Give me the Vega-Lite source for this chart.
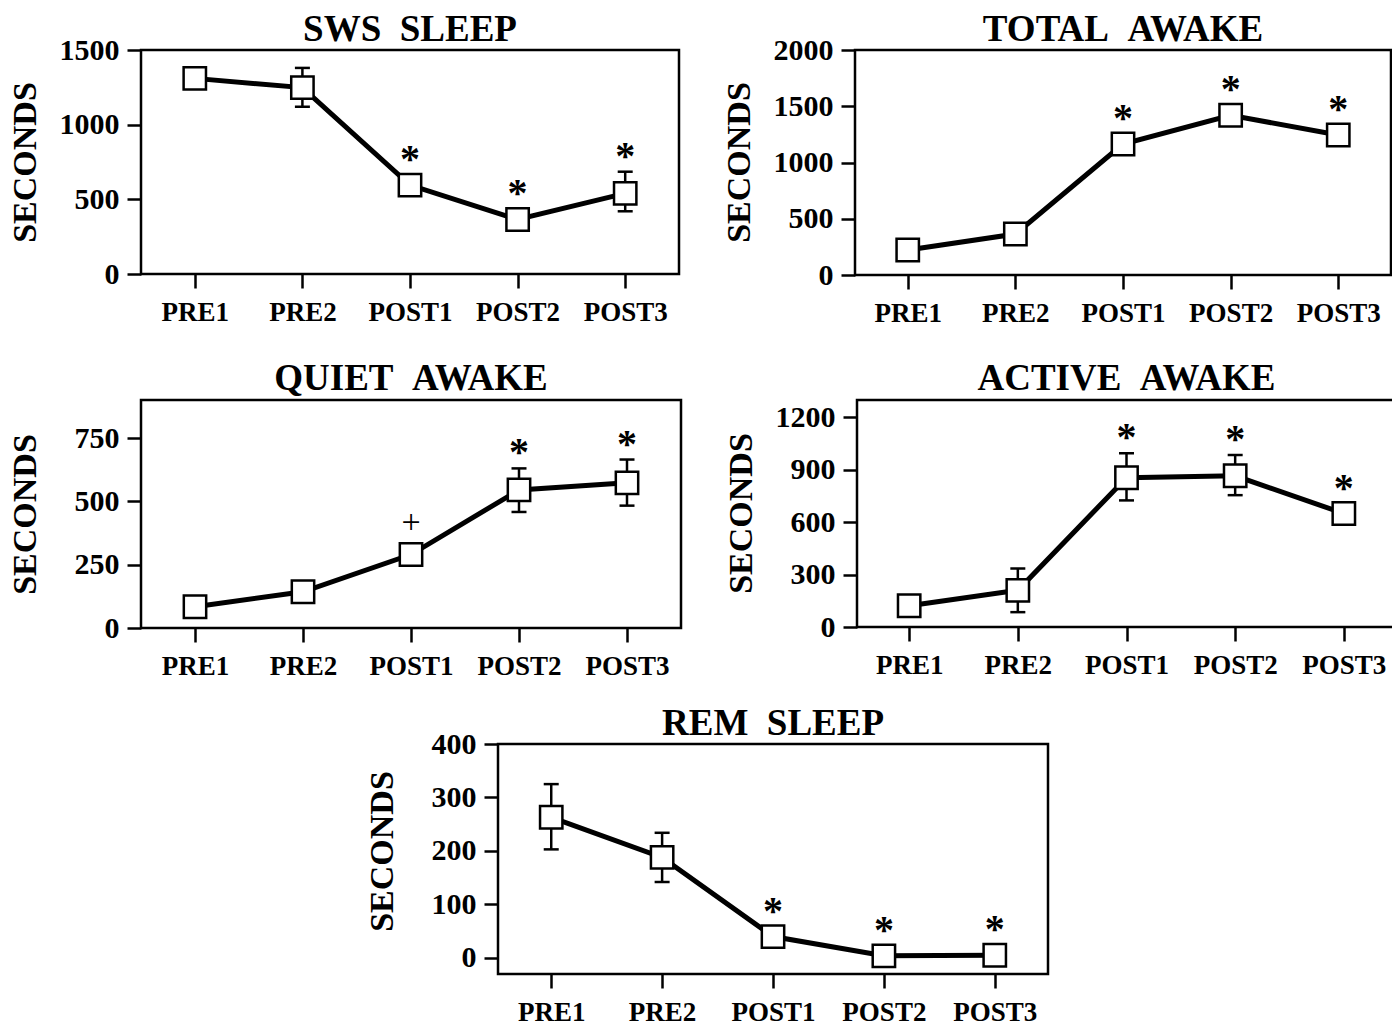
{
  "$schema": "https://vega.github.io/schema/vega-lite/v6.json",
  "padding": {"left": 6, "top": 9, "right": 0, "bottom": 0},
  "background": "white",
  "datasets": {
    "sws": [
      {"t": "PRE1", "v": 1310},
      {"t": "PRE2", "v": 1248, "lo": 1120, "hi": 1380},
      {"t": "POST1", "v": 595, "sig": "*"},
      {"t": "POST2", "v": 365, "sig": "*"},
      {"t": "POST3", "v": 540, "lo": 420, "hi": 685, "sig": "*"}
    ],
    "total": [
      {"t": "PRE1", "v": 222},
      {"t": "PRE2", "v": 364},
      {"t": "POST1", "v": 1164, "sig": "*"},
      {"t": "POST2", "v": 1420, "sig": "*"},
      {"t": "POST3", "v": 1244, "sig": "*"}
    ],
    "quiet": [
      {"t": "PRE1", "v": 84},
      {"t": "PRE2", "v": 143},
      {"t": "POST1", "v": 290, "sig": "+"},
      {"t": "POST2", "v": 545, "lo": 458, "hi": 630, "sig": "*"},
      {"t": "POST3", "v": 573, "lo": 483, "hi": 665, "sig": "*"}
    ],
    "active": [
      {"t": "PRE1", "v": 122},
      {"t": "PRE2", "v": 210, "lo": 85, "hi": 335},
      {"t": "POST1", "v": 855, "lo": 725, "hi": 995, "sig": "*"},
      {"t": "POST2", "v": 866, "lo": 755, "hi": 985, "sig": "*"},
      {"t": "POST3", "v": 650, "sig": "*"}
    ],
    "rem": [
      {"t": "PRE1", "v": 263, "lo": 203, "hi": 325},
      {"t": "PRE2", "v": 188, "lo": 142, "hi": 234},
      {"t": "POST1", "v": 40, "sig": "*"},
      {"t": "POST2", "v": 4, "sig": "*"},
      {"t": "POST3", "v": 5, "sig": "*"}
    ]
  },
  "vconcat": [
    {
      "spacing": 30,
      "vconcat": [
        {
          "spacing": 39,
          "hconcat": [
            {
              "width": 538, "height": 224,
              "title": {"text": "SWS\u00a0\u00a0SLEEP"},
              "data": {"name": "sws"},
              "encoding": {"x": {"field": "t", "type": "ordinal", "title": null, "sort": ["PRE1", "PRE2", "POST1", "POST2", "POST3"], "scale": {"type": "point", "padding": 0.5}}},
              "layer": [
                {"mark": {"type": "rule", "strokeWidth": 2.5, "color": "black"}, "encoding": {"y": {"field": "lo", "type": "quantitative", "title": "SECONDS", "scale": {"domain": [0, 1500], "nice": false, "zero": false}, "axis": {"values": [0, 500, 1000, 1500], "format": "d", "titleY": 112}}, "y2": {"field": "hi"}}},
                {"mark": {"type": "line", "strokeWidth": 5, "color": "black"}, "encoding": {"y": {"field": "v", "type": "quantitative", "title": "SECONDS"}}},
                {"mark": {"type": "point", "shape": "square", "filled": true, "fill": "white", "stroke": "black", "strokeWidth": 2.5, "size": 500, "opacity": 1}, "encoding": {"y": {"field": "v", "type": "quantitative", "title": "SECONDS"}}},
                {"mark": {"type": "tick", "thickness": 2.5, "size": 15, "color": "black", "opacity": 1}, "encoding": {"y": {"field": "lo", "type": "quantitative", "title": "SECONDS"}}},
                {"mark": {"type": "tick", "thickness": 2.5, "size": 15, "color": "black", "opacity": 1}, "encoding": {"y": {"field": "hi", "type": "quantitative", "title": "SECONDS"}}},
                {"transform": [{"filter": "datum.sig != null && datum.hi != null"}], "mark": {"type": "text", "baseline": "middle", "dy": -15, "fontSize": 40, "fontWeight": "bold", "color": "black"}, "encoding": {"y": {"field": "hi", "type": "quantitative", "title": "SECONDS"}, "text": {"field": "sig"}}},
                {"transform": [{"filter": "datum.sig != null && datum.hi == null"}], "mark": {"type": "text", "baseline": "middle", "dy": -25, "fontSize": 40, "fontWeight": "bold", "color": "black"}, "encoding": {"y": {"field": "v", "type": "quantitative", "title": "SECONDS"}, "text": {"field": "sig"}}}
              ]
            },
            {
              "width": 536, "height": 225,
              "title": {"text": "TOTAL\u00a0\u00a0AWAKE"},
              "data": {"name": "total"},
              "encoding": {"x": {"field": "t", "type": "ordinal", "title": null, "sort": ["PRE1", "PRE2", "POST1", "POST2", "POST3"], "scale": {"type": "point", "padding": 0.49}}},
              "layer": [
                {"mark": {"type": "line", "strokeWidth": 5, "color": "black"}, "encoding": {"y": {"field": "v", "type": "quantitative", "title": "SECONDS", "scale": {"domain": [0, 2000], "nice": false, "zero": false}, "axis": {"values": [0, 500, 1000, 1500, 2000], "format": "d", "titleY": 112}}}},
                {"mark": {"type": "point", "shape": "square", "filled": true, "fill": "white", "stroke": "black", "strokeWidth": 2.5, "size": 500, "opacity": 1}, "encoding": {"y": {"field": "v", "type": "quantitative", "title": "SECONDS"}}},
                {"transform": [{"filter": "datum.sig != null"}], "mark": {"type": "text", "baseline": "middle", "dy": -25, "fontSize": 40, "fontWeight": "bold", "color": "black"}, "encoding": {"y": {"field": "v", "type": "quantitative", "title": "SECONDS"}, "text": {"field": "sig"}}}
              ]
            }
          ]
        },
        {
          "spacing": 39,
          "hconcat": [
            {
              "width": 540, "height": 228,
              "title": {"text": "QUIET\u00a0\u00a0AWAKE", "offset": 2},
              "data": {"name": "quiet"},
              "encoding": {"x": {"field": "t", "type": "ordinal", "title": null, "sort": ["PRE1", "PRE2", "POST1", "POST2", "POST3"], "scale": {"type": "point", "padding": 0.5}}},
              "layer": [
                {"mark": {"type": "rule", "strokeWidth": 2.5, "color": "black"}, "encoding": {"y": {"field": "lo", "type": "quantitative", "title": "SECONDS", "scale": {"domain": [0, 900], "nice": false, "zero": false}, "axis": {"values": [0, 250, 500, 750], "format": "d", "titleY": 114}}, "y2": {"field": "hi"}}},
                {"mark": {"type": "line", "strokeWidth": 5, "color": "black"}, "encoding": {"y": {"field": "v", "type": "quantitative", "title": "SECONDS"}}},
                {"mark": {"type": "point", "shape": "square", "filled": true, "fill": "white", "stroke": "black", "strokeWidth": 2.5, "size": 500, "opacity": 1}, "encoding": {"y": {"field": "v", "type": "quantitative", "title": "SECONDS"}}},
                {"mark": {"type": "tick", "thickness": 2.5, "size": 15, "color": "black", "opacity": 1}, "encoding": {"y": {"field": "lo", "type": "quantitative", "title": "SECONDS"}}},
                {"mark": {"type": "tick", "thickness": 2.5, "size": 15, "color": "black", "opacity": 1}, "encoding": {"y": {"field": "hi", "type": "quantitative", "title": "SECONDS"}}},
                {"transform": [{"filter": "datum.sig != null && datum.hi != null"}], "mark": {"type": "text", "baseline": "middle", "dy": -15, "fontSize": 40, "fontWeight": "bold", "color": "black"}, "encoding": {"y": {"field": "hi", "type": "quantitative", "title": "SECONDS"}, "text": {"field": "sig"}}},
                {"transform": [{"filter": "datum.sig != null && datum.hi == null"}], "mark": {"type": "text", "baseline": "middle", "dy": -32, "fontSize": 34, "fontWeight": "normal", "color": "black"}, "encoding": {"y": {"field": "v", "type": "quantitative", "title": "SECONDS"}, "text": {"field": "sig"}}}
              ]
            },
            {
              "width": 539, "height": 227,
              "title": {"text": "ACTIVE\u00a0\u00a0AWAKE", "offset": 2},
              "data": {"name": "active"},
              "encoding": {"x": {"field": "t", "type": "ordinal", "title": null, "sort": ["PRE1", "PRE2", "POST1", "POST2", "POST3"], "scale": {"type": "point", "padding": 0.48}}},
              "layer": [
                {"mark": {"type": "rule", "strokeWidth": 2.5, "color": "black"}, "encoding": {"y": {"field": "lo", "type": "quantitative", "title": "SECONDS", "scale": {"domain": [0, 1300], "nice": false, "zero": false}, "axis": {"values": [0, 300, 600, 900, 1200], "format": "d", "titleY": 113}}, "y2": {"field": "hi"}}},
                {"mark": {"type": "line", "strokeWidth": 5, "color": "black"}, "encoding": {"y": {"field": "v", "type": "quantitative", "title": "SECONDS"}}},
                {"mark": {"type": "point", "shape": "square", "filled": true, "fill": "white", "stroke": "black", "strokeWidth": 2.5, "size": 500, "opacity": 1}, "encoding": {"y": {"field": "v", "type": "quantitative", "title": "SECONDS"}}},
                {"mark": {"type": "tick", "thickness": 2.5, "size": 15, "color": "black", "opacity": 1}, "encoding": {"y": {"field": "lo", "type": "quantitative", "title": "SECONDS"}}},
                {"mark": {"type": "tick", "thickness": 2.5, "size": 15, "color": "black", "opacity": 1}, "encoding": {"y": {"field": "hi", "type": "quantitative", "title": "SECONDS"}}},
                {"transform": [{"filter": "datum.sig != null && datum.hi != null"}], "mark": {"type": "text", "baseline": "middle", "dy": -15, "fontSize": 40, "fontWeight": "bold", "color": "black"}, "encoding": {"y": {"field": "hi", "type": "quantitative", "title": "SECONDS"}, "text": {"field": "sig"}}},
                {"transform": [{"filter": "datum.sig != null && datum.hi == null"}], "mark": {"type": "text", "baseline": "middle", "dy": -25, "fontSize": 40, "fontWeight": "bold", "color": "black"}, "encoding": {"y": {"field": "v", "type": "quantitative", "title": "SECONDS"}, "text": {"field": "sig"}}}
              ]
            }
          ]
        }
      ]
    },
    {
      "spacing": 39,
      "hconcat": [
        {
          "width": 183, "height": 10,
          "data": {"values": []},
          "mark": {"type": "point", "opacity": 0},
          "view": {"stroke": null}
        },
        {
          "width": 550, "height": 230,
          "title": {"text": "REM\u00a0\u00a0SLEEP"},
          "data": {"name": "rem"},
          "encoding": {"x": {"field": "t", "type": "ordinal", "title": null, "sort": ["PRE1", "PRE2", "POST1", "POST2", "POST3"], "scale": {"type": "point", "padding": 0.48}}},
          "layer": [
            {"mark": {"type": "rule", "strokeWidth": 2.5, "color": "black"}, "encoding": {"y": {"field": "lo", "type": "quantitative", "title": "SECONDS", "scale": {"domain": [-30, 400], "nice": false, "zero": false}, "axis": {"values": [0, 100, 200, 300, 400], "format": "d", "titleY": 107}}, "y2": {"field": "hi"}}},
            {"mark": {"type": "line", "strokeWidth": 5, "color": "black"}, "encoding": {"y": {"field": "v", "type": "quantitative", "title": "SECONDS"}}},
            {"mark": {"type": "point", "shape": "square", "filled": true, "fill": "white", "stroke": "black", "strokeWidth": 2.5, "size": 500, "opacity": 1}, "encoding": {"y": {"field": "v", "type": "quantitative", "title": "SECONDS"}}},
            {"mark": {"type": "tick", "thickness": 2.5, "size": 15, "color": "black", "opacity": 1}, "encoding": {"y": {"field": "lo", "type": "quantitative", "title": "SECONDS"}}},
            {"mark": {"type": "tick", "thickness": 2.5, "size": 15, "color": "black", "opacity": 1}, "encoding": {"y": {"field": "hi", "type": "quantitative", "title": "SECONDS"}}},
            {"transform": [{"filter": "datum.sig != null && datum.hi == null"}], "mark": {"type": "text", "baseline": "middle", "dy": -25, "fontSize": 40, "fontWeight": "bold", "color": "black"}, "encoding": {"y": {"field": "v", "type": "quantitative", "title": "SECONDS"}, "text": {"field": "sig"}}}
          ]
        }
      ]
    }
  ],
  "spacing": 22,
  "config": {
    "font": "Liberation Serif",
    "view": {"stroke": "black", "strokeWidth": 2.5},
    "axis": {
      "domain": false, "grid": false,
      "tickColor": "black", "tickWidth": 2.5, "tickSize": 14,
      "labelColor": "black", "labelFont": "Liberation Serif", "labelFontWeight": "bold", "labelFontSize": 30, "labelPadding": 8,
      "titleColor": "black", "titleFont": "Liberation Serif", "titleFontWeight": "bold", "titleFontSize": 34
    },
    "axisX": {"labelAngle": 0, "labelFontSize": 27, "labelPadding": 11},
    "axisY": {"titleX": -106, "titleBaseline": "alphabetic", "titleAngle": -90, "titleAnchor": "middle"},
    "title": {"font": "Liberation Serif", "fontSize": 37, "fontWeight": "bold", "color": "black", "offset": -14, "anchor": "middle", "baseline": "alphabetic"}
  }
}
